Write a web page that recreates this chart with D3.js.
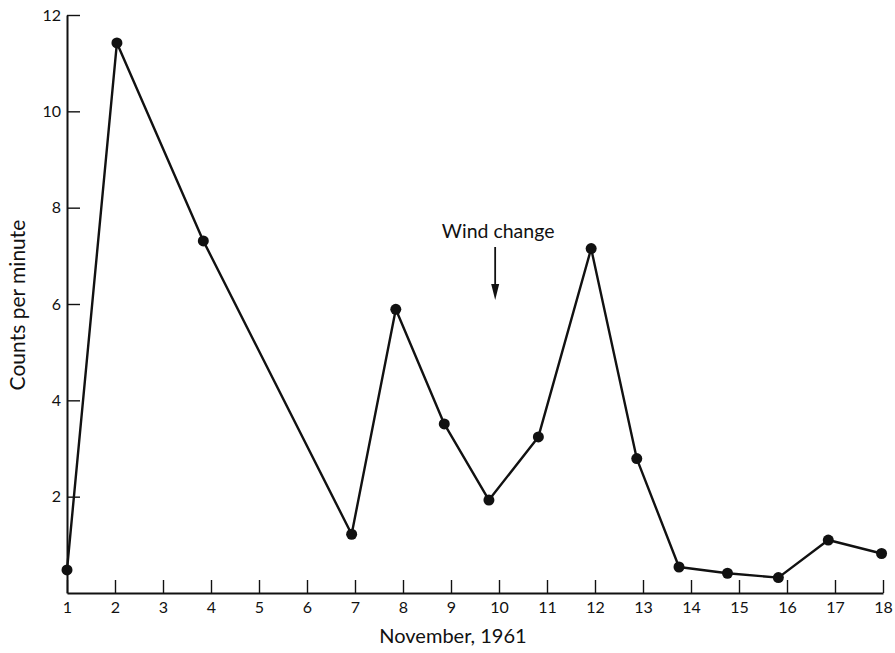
<!DOCTYPE html>
<html>
<head>
<meta charset="utf-8">
<script src="https://cdn.jsdelivr.net/npm/d3@7"></script>
<style>
  html, body { margin: 0; padding: 0; background: #fff; }
  svg { display: block; font-family: Lato, "Open Sans", sans-serif; }
</style>
</head>
<body>
<svg id="chart" width="895" height="653"></svg>
<script>
// Data (day of November 1961, counts per minute)
const days   = [1.0, 2.04, 3.84, 6.93, 7.85, 8.86, 9.79, 10.82, 11.92, 12.87, 13.75, 14.76, 15.82, 16.86, 17.97];
const counts = [0.48, 11.42, 7.31, 1.22, 5.89, 3.51, 1.93, 3.24, 7.15, 2.79, 0.54, 0.41, 0.32, 1.10, 0.82];
const xTicks = [1,2,3,4,5,6,7,8,9,10,11,12,13,14,15,16,17,18];
const yTicks = [2,4,6,8,10,12];
const annotation = { text: "Wind change", day: 9.92 };
const xTitle = "November, 1961";
const yTitle = "Counts per minute";

const svg = d3.select("#chart");
const x = d3.scaleLinear().domain([1, 18]).range([67, 883]);
const y = d3.scaleLinear().domain([0, 12]).range([593, 15]);

// X axis (ticks point upward)
const xAxis = svg.append("g").attr("transform", `translate(0,${y(0)})`)
  .call(d3.axisTop(x).tickValues(xTicks).tickSize(13).tickFormat(d3.format("d")).tickSizeOuter(0));
xAxis.select(".domain").attr("stroke", "#111").attr("stroke-width", 2);
xAxis.selectAll(".tick line").attr("stroke", "#111").attr("stroke-width", 1.4);
xAxis.selectAll(".tick text")
  .attr("y", 20).attr("dy", 0)
  .attr("font-size", 16).attr("fill", "#111")
  .attr("font-family", "Lato, sans-serif");

// Y axis (ticks point right, into the plot)
const yAxis = svg.append("g").attr("transform", `translate(${x(1)},0)`)
  .call(d3.axisRight(y).tickValues(yTicks).tickSize(13).tickFormat(d3.format("d")).tickSizeOuter(0));
yAxis.select(".domain").attr("stroke", "#111").attr("stroke-width", 2);
yAxis.selectAll(".tick text")
  .attr("x", -6).attr("text-anchor", "end")
  .attr("font-size", 16).attr("fill", "#111")
  .attr("font-family", "Lato, sans-serif");
yAxis.selectAll(".tick line").attr("stroke", "#111").attr("stroke-width", 1.4);

// Line
const pts = days.map((d, i) => [d, counts[i]]);
svg.append("path")
  .datum(pts)
  .attr("fill", "none")
  .attr("stroke", "#111")
  .attr("stroke-width", 2.4)
  .attr("stroke-linejoin", "round")
  .attr("d", d3.line().x(d => x(d[0])).y(d => y(d[1])));

// Points
svg.append("g").selectAll("circle")
  .data(pts)
  .join("circle")
  .attr("cx", d => x(d[0]))
  .attr("cy", d => y(d[1]))
  .attr("r", 5.5)
  .attr("fill", "#111");

// Annotation
const ax = x(annotation.day);
svg.append("text")
  .attr("x", ax + 3).attr("y", 238)
  .attr("text-anchor", "middle")
  .attr("font-size", 19.5).attr("fill", "#111")
  .text(annotation.text);
svg.append("line")
  .attr("x1", ax).attr("x2", ax)
  .attr("y1", 247).attr("y2", 290)
  .attr("stroke", "#111").attr("stroke-width", 1.8);
svg.append("path")
  .attr("d", `M${ax - 4},${284} L${ax + 4},${284} L${ax},${300} Z`)
  .attr("fill", "#111");

// Axis titles
svg.append("text")
  .attr("x", 453).attr("y", 643)
  .attr("text-anchor", "middle")
  .attr("font-size", 20).attr("fill", "#111")
  .text(xTitle);
svg.append("text")
  .attr("transform", "translate(25,305) rotate(-90)")
  .attr("text-anchor", "middle")
  .attr("font-size", 21).attr("fill", "#111")
  .text(yTitle);
</script>
</body>
</html>
